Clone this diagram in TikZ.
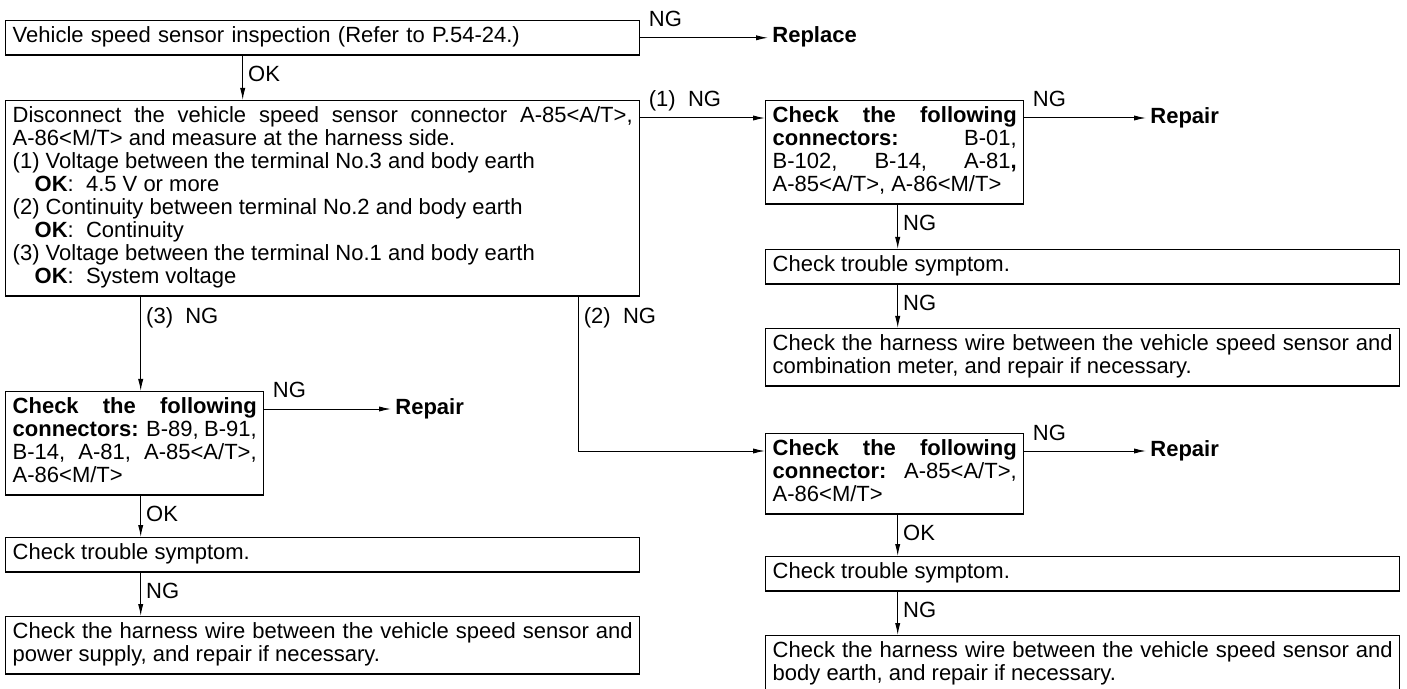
\documentclass[tikz,border=0pt]{standalone}
\usepackage{fontspec}
\setmainfont{Liberation Sans}
\usetikzlibrary{arrows.meta,positioning}

\newcommand{\okline}[1]{\hspace*{11pt}\textbf{OK}:\ \ #1}

\begin{document}
\begin{tikzpicture}[x=0.5pt,y=-0.5pt,
  every node/.style={font=\fontsize{11}{11.5}\selectfont},
  box/.style={draw,line width=0.7pt,anchor=north west,align=justify,
              inner xsep=3.5pt,inner ysep=2.8pt,
              execute at begin node=\strut,execute at end node=\strut},
  wide/.style={box,text width=310pt},
  narrow/.style={box,text width=122pt},
  fix/.style={anchor=west,inner sep=2pt,font=\fontsize{11}{11.5}\selectfont\bfseries},
  ngh/.style={anchor=base west,inner sep=0pt,xshift=4pt,yshift=5.5pt},
  ngv/.style={anchor=north west,inner sep=0pt,xshift=2.5pt,yshift=-5pt},
  arr/.style={-{Latex[length=6pt,width=2.6pt]},line width=0.5pt}]
\useasboundingbox (0,0) rectangle (1407,689);

% first check
\node[wide,align=left] (insp) at (5,20) {Vehicle speed sensor inspection (Refer to P.54-24.)};
\node[fix] (replace) at (768,37) {Replace};
\draw[arr] (insp.east) -- (insp.east -| replace.west) node[ngh,pos=0]{NG};

\node[wide] (disc) at (5,100) {Disconnect the vehicle speed sensor connector A-85<A/T>,\linebreak
  A-86<M/T> and measure at the harness side.\\
  (1) Voltage between the terminal No.3 and body earth\\
  \okline{4.5 V or more}\\
  (2) Continuity between terminal No.2 and body earth\\
  \okline{Continuity}\\
  (3) Voltage between the terminal No.1 and body earth\\
  \okline{System voltage}};
\draw[arr] ([xshift=-40pt]insp.south) -- ([xshift=-40pt]insp.south |- disc.north) node[ngv,pos=0]{OK};

% branch (1)
\node[narrow] (conA) at (765,100) {\textbf{Check the following}\linebreak
  \textbf{connectors:} B-01,\linebreak B-102, B-14, A-81\textbf{,}\linebreak A-85<A/T>, A-86<M/T>};
\node[wide] (symA) at (765,249) {Check trouble symptom.};
\node[wide] (harA) at (765,328) {Check the harness wire between the vehicle speed sensor and\linebreak
  combination meter, and repair if necessary.};
\node[fix] (repA) at (1146,118) {Repair};
\coordinate (inA) at ([yshift=-9pt]conA.north west);
\coordinate (vA) at ([xshift=1.5pt]conA.south);
\draw[arr] (disc.east |- inA) -- (inA) node[ngh,pos=0]{(1)\ \ NG};
\draw[arr] (conA.east |- repA) -- (repA.west) node[ngh,pos=0]{NG};
\draw[arr] (vA) -- (vA |- symA.north) node[ngv,pos=0]{NG};
\draw[arr] (symA.south -| vA) -- (vA |- harA.north) node[ngv,pos=0]{NG};

% branch (3)
\node[narrow] (conL) at (5,391) {\textbf{Check the following}\linebreak
  \textbf{connectors:} B-89, B-91,\linebreak B-14, A-81, A-85<A/T>,\linebreak A-86<M/T>};
\node[wide] (symL) at (5,537) {Check trouble symptom.};
\node[wide] (harL) at (5,616) {Check the harness wire between the vehicle speed sensor and\linebreak
  power supply, and repair if necessary.};
\node[fix] (repL) at (391,409) {Repair};
\coordinate (vL) at ([xshift=3pt]conL.north);
\draw[arr] (disc.south -| vL) -- (vL) node[ngv,pos=0]{(3)\ \ NG};
\draw[arr] (conL.east |- repL) -- (repL.west) node[ngh,pos=0]{NG};
\draw[arr] (conL.south -| vL) -- (symL.north -| vL) node[ngv,pos=0]{OK};
\draw[arr] (symL.south -| vL) -- (harL.north -| vL) node[ngv,pos=0]{NG};

% branch (2)
\node[narrow] (conB) at (765,433) {\textbf{Check the following}\linebreak
  \textbf{connector:} A-85<A/T>,\linebreak A-86<M/T>};
\node[wide] (symB) at (765,556) {Check trouble symptom.};
\node[wide] (harB) at (765,635) {Check the harness wire between the vehicle speed sensor and\linebreak
  body earth, and repair if necessary.};
\node[fix] (repB) at (1146,451) {Repair};
\coordinate (inB) at ([yshift=-9pt]conB.north west);
\coordinate (vB) at ([xshift=1.5pt]conB.south);
\draw[arr] ([xshift=-31pt]disc.south east) |- (inB) node[ngv,pos=0]{(2)\ \ NG};
\draw[arr] (conB.east |- repB) -- (repB.west) node[ngh,pos=0]{NG};
\draw[arr] (vB) -- (vB |- symB.north) node[ngv,pos=0]{OK};
\draw[arr] (symB.south -| vB) -- (vB |- harB.north) node[ngv,pos=0]{NG};
\end{tikzpicture}
\end{document}
